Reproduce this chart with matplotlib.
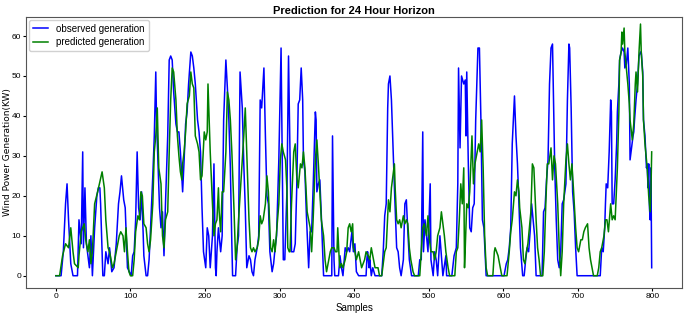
import matplotlib
matplotlib.use("Agg")
import matplotlib.pyplot as plt
from matplotlib import font_manager

# the reference uses a squeezed font; Liberation Sans is the narrowest one here
names = {f.name for f in font_manager.fontManager.ttflist}
NARROW = "Liberation Sans Narrow" if "Liberation Sans Narrow" in names else "Liberation Sans"

# readings: (sample, kW)
obs_samples = [0, 7, 10, 13, 15, 17, 20, 23, 29, 31, 34, 36, 37, 39, 41, 45, 47, 49, 52, 55, 57, 59, 60, 63, 65, 67,
               70, 72, 75, 78, 81, 84, 86, 88, 91, 93, 96, 101, 103, 105, 107, 109, 111, 113, 115, 117, 118, 121,
               123, 125, 127, 130, 132, 134, 135, 137, 139, 141, 143, 145, 147, 150, 152, 154, 156, 158, 161, 163,
               165, 167, 170, 172, 174, 176, 178, 181, 183, 185, 187, 190, 192, 194, 196, 198, 201, 203, 205, 207,
               210, 212, 214, 215, 216, 218, 221, 223, 225, 228, 230, 232, 234, 236, 237, 241, 243, 245, 247, 250,
               252, 254, 256, 259, 261, 263, 265, 267, 270, 272, 274, 276, 279, 281, 283, 285, 287, 290, 292, 294,
               296, 299, 302, 304, 305, 307, 310, 312, 314, 316, 319, 321, 323, 325, 327, 329, 331, 332, 334, 336,
               339, 341, 343, 345, 348, 349, 350, 352, 354, 356, 359, 370, 371, 373, 374, 379, 381, 383, 385, 388,
               390, 392, 394, 397, 399, 401, 403, 406, 416, 417, 418, 420, 421, 423, 425, 428, 437, 439, 441, 443,
               445, 446, 448, 450, 452, 454, 457, 459, 461, 463, 466, 468, 470, 472, 474, 477, 486, 488, 490, 492,
               493, 495, 497, 499, 502, 503, 506, 508, 510, 512, 515, 517, 519, 523, 524, 531, 534, 537, 539, 540,
               542, 544, 547, 549, 550, 551, 553, 555, 557, 559, 561, 563, 566, 568, 570, 572, 574, 577, 601, 604,
               606, 608, 610, 612, 615, 617, 619, 621, 623, 626, 628, 630, 632, 634, 636, 638, 640, 642, 644, 652,
               654, 656, 658, 660, 662, 664, 666, 667, 669, 671, 673, 675, 677, 679, 681, 684, 686, 688, 689, 691,
               693, 695, 697, 699, 730, 732, 734, 736, 737, 738, 740, 742, 744, 745, 746, 748, 750, 752, 753, 755,
               756, 758, 760, 762, 763, 765, 767, 769, 770, 772, 774, 775, 776, 778, 780, 782, 784, 785, 787, 788,
               790, 792, 793, 794, 795, 796, 797, 798, 799]
obs_values = [0, 0, 6, 18, 23, 14, 3, 0, 0, 14, 8, 31, 7, 22, 8, 2, 10, 0, 12, 20, 22, 22, 18, 0, 0, 6,
              3, 7, 1, 2, 8, 18, 21, 25, 19, 17, 2, 0, 5, 6, 14, 31, 17, 14, 21, 11, 5, 0,
              0, 4, 12, 25, 35, 51, 39, 28, 17, 12, 16, 5, 18, 35, 54, 55, 54, 46, 38, 36,
              36, 31, 21, 29, 38, 41, 48, 56, 55, 52, 48, 39, 36, 31, 17, 6, 2, 12, 10, 2,
              10, 28, 2, 0, 6, 12, 6, 10, 39, 54, 47, 39, 27, 8, 0, 0, 7, 10, 51, 42,
              28, 17, 2, 5, 4, 1, 0, 4, 7, 10, 44, 42, 52, 35, 20, 18, 6, 1, 3, 7,
              10, 29, 57, 22, 4, 4, 22, 55, 31, 6, 6, 8, 22, 43, 44, 52, 44, 29, 26, 15,
              2, 11, 11, 22, 41, 39, 21, 23, 24, 15, 0, 0, 35, 4, 0, 0, 5, 2, 0, 7,
              6, 7, 6, 11, 6, 8, 1, 0, 0, 4, 6, 2, 4, 0, 2, 0, 0, 6, 15, 18,
              42, 48, 50, 44, 33, 22, 7, 6, 2, 0, 4, 18, 19, 11, 4, 0, 0, 4, 4, 36,
              6, 14, 10, 6, 23, 4, 0, 6, 4, 0, 10, 5, 0, 5, 0, 0, 5, 7, 23, 52,
              32, 50, 48, 49, 35, 51, 29, 12, 11, 17, 18, 39, 57, 57, 39, 14, 12, 0, 0, 3,
              4, 7, 12, 33, 45, 35, 28, 18, 7, 0, 0, 4, 7, 6, 11, 18, 14, 10, 0, 0,
              16, 17, 24, 29, 48, 57, 58, 48, 27, 14, 4, 2, 6, 18, 19, 23, 44, 58, 57, 42,
              21, 16, 7, 0, 0, 7, 6, 12, 18, 23, 22, 31, 44, 41, 18, 18, 24, 33, 41, 48,
              54, 56, 57, 56, 52, 53, 57, 48, 29, 32, 35, 36, 39, 44, 48, 55, 56, 56, 51, 39,
              35, 27, 28, 22, 28, 17, 14, 27, 2]

pred_samples = [0, 5, 9, 13, 17, 20, 23, 25, 30, 31, 34, 38, 40, 43, 45, 47, 49, 52, 56, 62, 65, 67, 70, 72, 76,
                78, 81, 85, 87, 90, 92, 94, 96, 98, 100, 103, 105, 107, 110, 112, 114, 116, 118, 121, 123, 125,
                127, 130, 132, 134, 136, 138, 141, 143, 145, 147, 150, 152, 154, 156, 158, 161, 163, 165, 167,
                169, 170, 172, 174, 176, 179, 181, 183, 185, 187, 190, 192, 194, 196, 199, 201, 203, 204, 207,
                210, 212, 214, 216, 218, 219, 221, 223, 225, 228, 230, 232, 234, 236, 239, 241, 243, 245, 248,
                250, 252, 254, 256, 259, 261, 263, 265, 267, 270, 272, 274, 276, 278, 281, 283, 285, 288, 290,
                292, 294, 296, 299, 301, 303, 305, 308, 310, 311, 313, 314, 316, 319, 321, 323, 325, 328, 330,
                332, 334, 337, 339, 341, 343, 345, 348, 350, 352, 354, 356, 359, 361, 363, 365, 368, 370, 373,
                375, 377, 378, 380, 381, 383, 385, 388, 390, 392, 394, 396, 398, 399, 401, 403, 406, 408, 410,
                412, 414, 416, 419, 421, 423, 426, 428, 432, 434, 437, 439, 441, 443, 446, 448, 450, 452, 454,
                455, 457, 459, 461, 463, 466, 468, 470, 472, 474, 476, 479, 481, 488, 490, 492, 494, 497, 499,
                501, 503, 506, 508, 510, 512, 515, 517, 519, 521, 523, 526, 528, 535, 537, 539, 541, 543, 545,
                547, 548, 549, 551, 553, 555, 558, 560, 562, 565, 567, 569, 571, 573, 575, 577, 579, 586, 588,
                589, 591, 593, 596, 598, 605, 608, 610, 612, 615, 617, 619, 621, 622, 625, 627, 629, 631, 633,
                635, 637, 639, 641, 644, 646, 648, 650, 653, 655, 657, 659, 661, 664, 666, 668, 670, 673, 675,
                677, 679, 681, 684, 686, 688, 690, 692, 694, 697, 699, 701, 704, 706, 708, 710, 713, 715, 717,
                719, 721, 726, 728, 730, 732, 735, 737, 739, 741, 744, 746, 748, 750, 753, 755, 756, 758, 759,
                760, 762, 763, 765, 767, 769, 770, 773, 775, 777, 778, 780, 782, 784, 785, 787, 788, 790, 793,
                795, 796, 797, 798, 799]
pred_values = [0, 0, 5, 8, 7, 12, 6, 3, 2, 5, 11, 13, 9, 6, 9, 3, 6, 18, 21, 26, 22, 14, 7, 6, 2,
               3, 6, 10, 11, 10, 6, 12, 6, 1, 0, 0, 4, 11, 15, 14, 21, 20, 13, 12, 8, 6,
               9, 18, 31, 35, 42, 27, 23, 10, 7, 14, 16, 31, 44, 52, 51, 44, 35, 30, 26,
               24, 28, 31, 36, 43, 45, 51, 48, 47, 35, 33, 31, 24, 25, 36, 34, 36, 48, 31,
               18, 10, 13, 14, 22, 16, 11, 21, 21, 31, 46, 44, 39, 31, 16, 4, 7, 14, 23,
               29, 35, 42, 31, 14, 7, 6, 7, 6, 7, 9, 15, 13, 14, 18, 25, 21, 7, 6,
               9, 6, 11, 18, 29, 33, 31, 29, 21, 7, 6, 6, 18, 31, 33, 25, 22, 28, 27,
               31, 27, 16, 14, 12, 6, 14, 29, 34, 28, 21, 14, 10, 4, 1, 3, 6, 7, 7,
               6, 6, 12, 4, 2, 3, 2, 4, 6, 12, 13, 11, 13, 7, 6, 4, 6, 4, 2,
               3, 4, 6, 5, 4, 7, 4, 2, 2, 0, 0, 3, 6, 7, 19, 16, 22, 25, 28,
               22, 14, 13, 14, 12, 15, 13, 14, 13, 7, 4, 1, 0, 0, 6, 12, 13, 10, 15,
               9, 6, 6, 4, 6, 10, 12, 16, 13, 10, 6, 2, 0, 0, 6, 7, 14, 23, 18,
               27, 2, 7, 18, 17, 21, 35, 23, 28, 31, 33, 31, 39, 27, 10, 2, 0, 0, 6,
               7, 6, 5, 2, 0, 0, 6, 11, 14, 21, 20, 24, 21, 17, 12, 4, 3, 6, 8,
               12, 16, 28, 27, 14, 7, 4, 0, 0, 6, 18, 28, 28, 32, 24, 30, 28, 18, 7,
               0, 6, 18, 29, 33, 28, 24, 28, 22, 12, 7, 6, 9, 9, 11, 12, 13, 7, 4,
               2, 0, 0, 2, 6, 7, 10, 14, 14, 11, 18, 14, 15, 14, 27, 41, 54, 56, 61,
               58, 62, 56, 52, 48, 43, 39, 34, 38, 48, 51, 46, 56, 63, 56, 50, 39, 33, 27,
               20, 18, 16, 21, 31]

fig = plt.figure(figsize=(6.85, 3.18), dpi=100)
ax = fig.add_axes([0.038, 0.094, 0.958, 0.853])
ax.plot(obs_samples, obs_values, color="blue", lw=1.1, label="observed generation")
ax.plot(pred_samples, pred_values, color="green", lw=1.1, label="predicted generation")

ax.set_xlim(-40, 840)
ax.set_ylim(-3.1, 64.8)
ax.set_xticks(range(0, 801, 100))
ax.set_yticks(range(0, 61, 10))
for lab in ax.get_xticklabels() + ax.get_yticklabels():
    lab.set_family(NARROW); lab.set_fontsize(6)
ax.tick_params(length=2.5, width=0.8, pad=1)
for sp in ax.spines.values():
    sp.set_color("#555555"); sp.set_linewidth(0.8)

ax.set_title("Prediction for 24 Hour Horizon", family=NARROW, fontsize=8, fontweight="bold", pad=2)
ax.set_xlabel("Samples", family=NARROW, fontsize=7, labelpad=2)
ax.set_ylabel("Wind Power Generation(KW)", fontsize=6.5)
ax.yaxis.set_label_coords(-0.0221, 0.5)
ax.legend(loc="upper left", prop={"family": NARROW, "size": 7}, handlelength=1.6,
          borderaxespad=0.3, labelspacing=0.35, framealpha=0.9)

fig.savefig("out.png", dpi=100, facecolor="white")
